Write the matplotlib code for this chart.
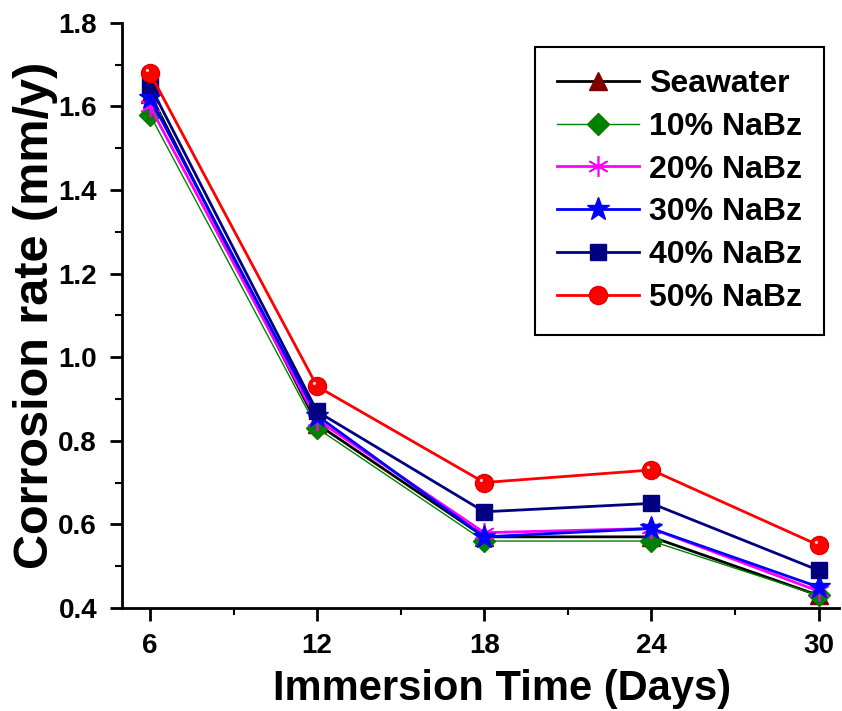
import matplotlib
matplotlib.use("Agg")
import matplotlib.pyplot as plt
import numpy as np
from matplotlib.ticker import MultipleLocator, FormatStrFormatter
from matplotlib.path import Path

days = [6, 12, 18, 24, 30]
seawater = [1.63, 0.84, 0.57, 0.57, 0.43]
nabz10 = [1.58, 0.83, 0.56, 0.56, 0.43]
nabz20 = [1.60, 0.85, 0.58, 0.59, 0.44]
nabz30 = [1.62, 0.86, 0.57, 0.59, 0.45]
nabz40 = [1.65, 0.87, 0.63, 0.65, 0.49]
nabz50 = [1.68, 0.93, 0.70, 0.73, 0.55]
labels = ["Seawater", "10% NaBz", "20% NaBz", "30% NaBz", "40% NaBz", "50% NaBz"]

plt.rcParams['font.family'] = ['Liberation Sans', 'DejaVu Sans']
plt.rcParams['font.weight'] = 'bold'

fig = plt.figure(figsize=(8.42, 7.11), dpi=100)
ax = fig.add_axes([0.145, 0.145, 0.852, 0.823])

styles = [
    (seawater, dict(color='black', lw=2, marker='^', ms=13, mfc='#7f0000', mec='#7f0000')),
    (nabz10, dict(color='green', lw=1, marker='D', ms=11, mfc='green', mec='green')),
    (nabz20, dict(color='magenta', lw=2, marker=(6, 2, 0), ms=15, mfc='magenta', mec='magenta', mew=1.2)),
    (nabz30, dict(color='blue', lw=2, marker='*', ms=17, mfc='blue', mec='blue')),
    (nabz40, dict(color='#000080', lw=2, marker='s', ms=12, mfc='#000080', mec='#000080')),
    (nabz50, dict(color='red', lw=2, marker='o', ms=13, mfc='red', mec='#e00000')),
]
for (vals, st), lab in zip(styles, labels):
    ax.plot(days, vals, label=lab, **st)

# specular highlight on the red spheres (marker shape only)
theta = np.linspace(0, 2 * np.pi, 30)
hv = np.column_stack([-0.17 + 0.09 * np.cos(theta), 0.17 + 0.09 * np.sin(theta)])
verts = np.vstack([[[0.5, 0.0]], hv])
codes = [Path.MOVETO, Path.MOVETO] + [Path.LINETO] * (len(hv) - 2) + [Path.CLOSEPOLY]
hl = Path(verts, codes)
ax.plot(days, nabz50, ls='none', marker=hl, ms=13, mfc='#ffd0d0', mec='none')

ax.set_xlim(5.0, 30.75)
ax.set_ylim(0.4, 1.8)
ax.set_xticks(days)
ax.xaxis.set_minor_locator(MultipleLocator(3))
ax.yaxis.set_major_locator(MultipleLocator(0.2))
ax.yaxis.set_minor_locator(MultipleLocator(0.1))
ax.yaxis.set_major_formatter(FormatStrFormatter('%.1f'))

for s in ['top', 'right']:
    ax.spines[s].set_visible(False)
for s in ['left', 'bottom']:
    ax.spines[s].set_linewidth(2)

ax.tick_params(which='major', direction='out', length=9, width=2, labelsize=20, pad=9)
ax.tick_params(which='minor', direction='out', length=5, width=1.5)
for t in ax.get_xticklabels() + ax.get_yticklabels():
    t.set_fontweight('bold')

ax.set_xlabel('Immersion Time (Days)', fontsize=30, fontweight='bold')
ax.xaxis.set_label_coords(0.529, -0.105)
ax.set_ylabel('Corrosion rate (mm/y)', fontsize=35, fontweight='bold', labelpad=0)

leg = ax.legend(loc='upper right', bbox_to_anchor=(0.979, 0.959), prop={'size': 23, 'weight': 'bold'},
                frameon=True, fancybox=False, edgecolor='black', handlelength=2.57,
                borderpad=0.7, labelspacing=0.4, handletextpad=0.3, borderaxespad=0,
                framealpha=1)
leg.get_frame().set_linewidth(1.5)

fig.savefig('out.png', dpi=100)
